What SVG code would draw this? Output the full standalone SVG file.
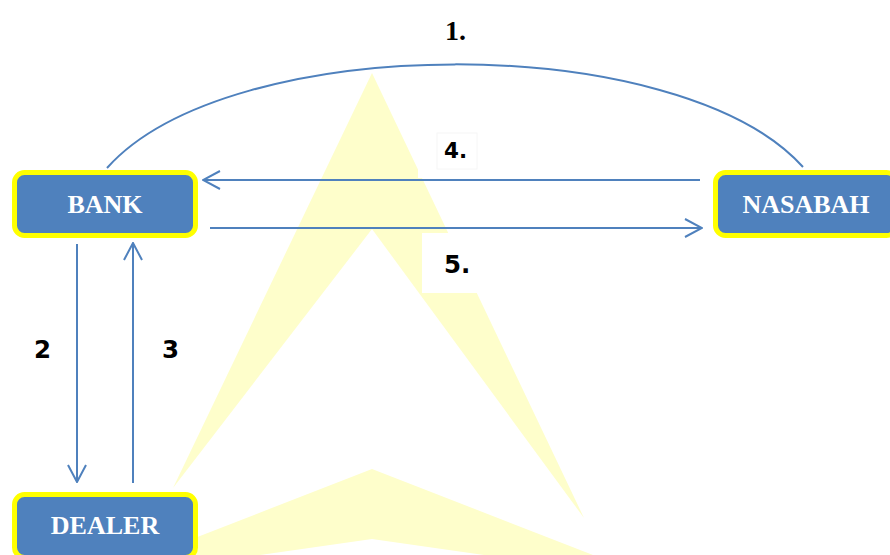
<svg xmlns="http://www.w3.org/2000/svg" width="890" height="555" viewBox="0 0 890 555">
  <style>
    .node rect { fill: #4F81BD; stroke: #FFFF00; stroke-width: 5; }
    .node text { font-family: "Liberation Serif", "Times New Roman", serif; font-weight: bold; font-size: 26px; fill: #FFFFFF; text-anchor: middle; }
    .edge { fill: none; stroke: #4F81BD; stroke-width: 2; }
    .num { font-family: "DejaVu Sans", Verdana, sans-serif; font-weight: bold; fill: #000000; }
    .wm { fill: #FEFECB; }
  </style>
  <defs>
    <marker id="arrow" viewBox="0 0 20 20" refX="19" refY="10" markerWidth="20" markerHeight="20" markerUnits="userSpaceOnUse" orient="auto">
      <path d="M2,1 L19,10 L2,19" fill="none" stroke="#4F81BD" stroke-width="2"/>
    </marker>
  </defs>

  <rect width="890" height="555" fill="#FFFFFF"/>

  <!-- background logo -->
  <g id="logo">
    <polygon class="wm" points="372,73 173,488 372,229"/>
    <polygon class="wm" points="372,73 584,518 372,229"/>
    <polygon class="wm" points="372,469 593,555 484,555 372,539 260,555 151,555"/>
  </g>

  <!-- white label backgrounds -->
  <rect x="418" y="126" width="72" height="52" fill="#FFFFFF"/>
  <rect x="437" y="133" width="40" height="36" fill="none" stroke="#F6F6F6" stroke-width="1"/>
  <rect x="422" y="233" width="66" height="60" fill="#FFFFFF"/>

  <g id="connectors">
    <path class="edge" d="M107,168 C230,30 680,30 803,167"/>
    <line class="edge" x1="700" y1="180" x2="203" y2="180" marker-end="url(#arrow)"/>
    <line class="edge" x1="210" y1="228" x2="702" y2="228" marker-end="url(#arrow)"/>
    <line class="edge" x1="77" y1="244" x2="77" y2="482" marker-end="url(#arrow)"/>
    <line class="edge" x1="133" y1="483" x2="133" y2="243" marker-end="url(#arrow)"/>
  </g>

  <g id="bank" class="node">
    <rect x="14.5" y="172.5" width="181" height="63" rx="10"/>
    <text x="105" y="213">BANK</text>
  </g>
  <g id="nasabah" class="node">
    <rect x="715.5" y="172.5" width="181" height="63" rx="10"/>
    <text x="806" y="213">NASABAH</text>
  </g>
  <g id="dealer" class="node">
    <rect x="14.5" y="494.5" width="181" height="63" rx="10"/>
    <text x="105" y="534">DEALER</text>
  </g>

  <g id="labels">
    <text x="445" y="39.5" font-family="Liberation Serif, Times New Roman, serif" font-weight="bold" font-size="28">1.</text>
    <text class="num" x="444" y="158" font-size="21.5">4.</text>
    <text class="num" x="444" y="273" font-size="24.5">5.</text>
    <text class="num" x="34" y="358" font-size="24.5">2</text>
    <text class="num" x="162" y="358" font-size="24.5">3</text>
  </g>
</svg>
